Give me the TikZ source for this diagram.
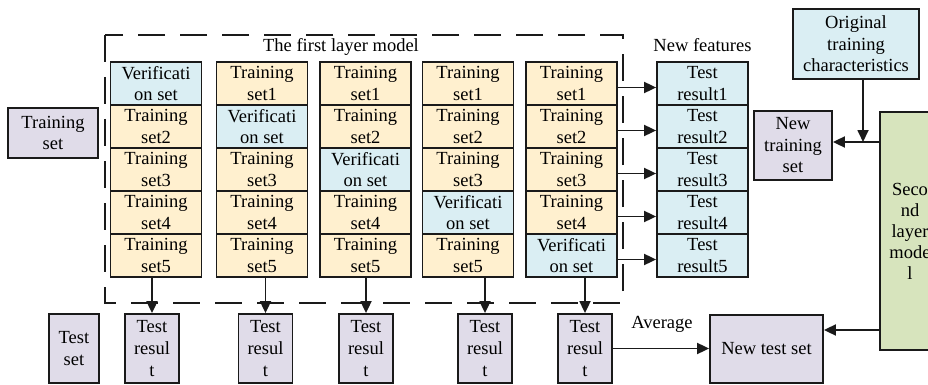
\documentclass[tikz,border=0pt]{standalone}
\usepackage{fontspec}
\setmainfont{Liberation Serif}
\usetikzlibrary{arrows.meta}
\definecolor{cyel}{HTML}{FFF0CF}
\definecolor{cblu}{HTML}{DAEEF3}
\definecolor{cpur}{HTML}{E0DCE9}
\definecolor{cgrn}{HTML}{D7E4BD}
\definecolor{cline}{HTML}{1A1A1A}
\begin{document}
\begin{tikzpicture}[x=1pt,y=1pt,
  every node/.style={font=\rmfamily\fontsize{18.5}{21.5}\selectfont, inner sep=0pt, align=center},
  boxbase/.style={draw=cline, line width=1.8pt},
  cell/.style={boxbase, minimum width=91pt, minimum height=43pt},
  trn/.style={cell, fill=cyel},
  ver/.style={cell, fill=cblu},
  pur/.style={boxbase, fill=cpur},
  tres/.style={pur, minimum width=54pt, minimum height=69pt, font=\rmfamily\fontsize{18.5}{22}\selectfont},
  arr/.style={draw=cline, line width=1.8pt, -{Triangle[length=12pt,width=11pt]}},
  lbl/.style={font=\rmfamily\fontsize{18.5}{21}\selectfont}
]
\useasboundingbox (0,0) rectangle (928,-385);

% dashed first-layer frame
\draw[cline, line width=2.2pt, dash pattern=on 27pt off 15pt] (105,-35) rectangle (623,-303);
\node[lbl] (title) at (341,-47) {The first layer model};

% columns
\foreach \c/\x in {1/156,2/262,3/365.5,4/468,5/571.5}{
  \foreach \r/\y in {1/83.5,2/126.5,3/169.5,4/212.5,5/255.5}{
    \ifnum\c=\r
      \node[ver] (c\c r\r) at (\x,-\y) {Verificati\\on set};
    \else
      \node[trn] (c\c r\r) at (\x,-\y) {Training\\set\r};
    \fi
  }
}

% new features
\node[lbl] (nf) at (702.5,-45) {New features};
\foreach \r/\y in {1/83.5,2/126.5,3/169.5,4/212.5,5/255.5}{
  \node[ver] (f\r) at (702.5,-\y) {Test\\result\r};
  \draw[arr] ([yshift=-4pt]c5r\r.east) -- ([yshift=-4pt]f\r.west);
}

% left boxes
\node[pur, minimum width=90pt, minimum height=50pt] (tset) at (53,-133) {Training\\set};
\node[pur, minimum width=50pt, minimum height=69pt] (teset) at (74,-348.5) {Test\\set};

% test results
\foreach \c/\x in {1/152,2/265.5,3/366,4/485,5/585}{
  \node[tres] (t\c) at (\x,-348.5) {Test\\resul\\t};
  \draw[arr] (t\c.north |- c\c r5.south) -- (t\c.north);
}

% right part
\node[pur, minimum width=113pt, minimum height=68pt] (nts) at (766.5,-349) {New test set};
\node[pur, minimum width=78pt, minimum height=69pt] (ntr) at (793,-145.5) {New\\training\\set};
\node[boxbase, fill=cblu, minimum width=126pt, minimum height=70pt] (orig) at (856,-44) {Original\\training\\characteristics};
\node[boxbase, fill=cgrn, minimum width=60pt, minimum height=238pt, font=\rmfamily\fontsize{18.5}{21}\selectfont] (slm) at (910,-231) {Seco\\nd\\layer\\mode\\l};

\coordinate (j) at (863,-142);
\coordinate (k) at (850,-330);
\draw[arr] (slm.west |- j) -- (ntr.east |- j);
\draw[arr] (orig.south -| j) -- (j);
\draw[arr] (slm.west |- k) -- (nts.east |- k);

\draw[arr] (t5.east) -- (t5.east -| nts.west);
\node[lbl] (avg) at (662,-324) {Average};
\end{tikzpicture}
\end{document}
